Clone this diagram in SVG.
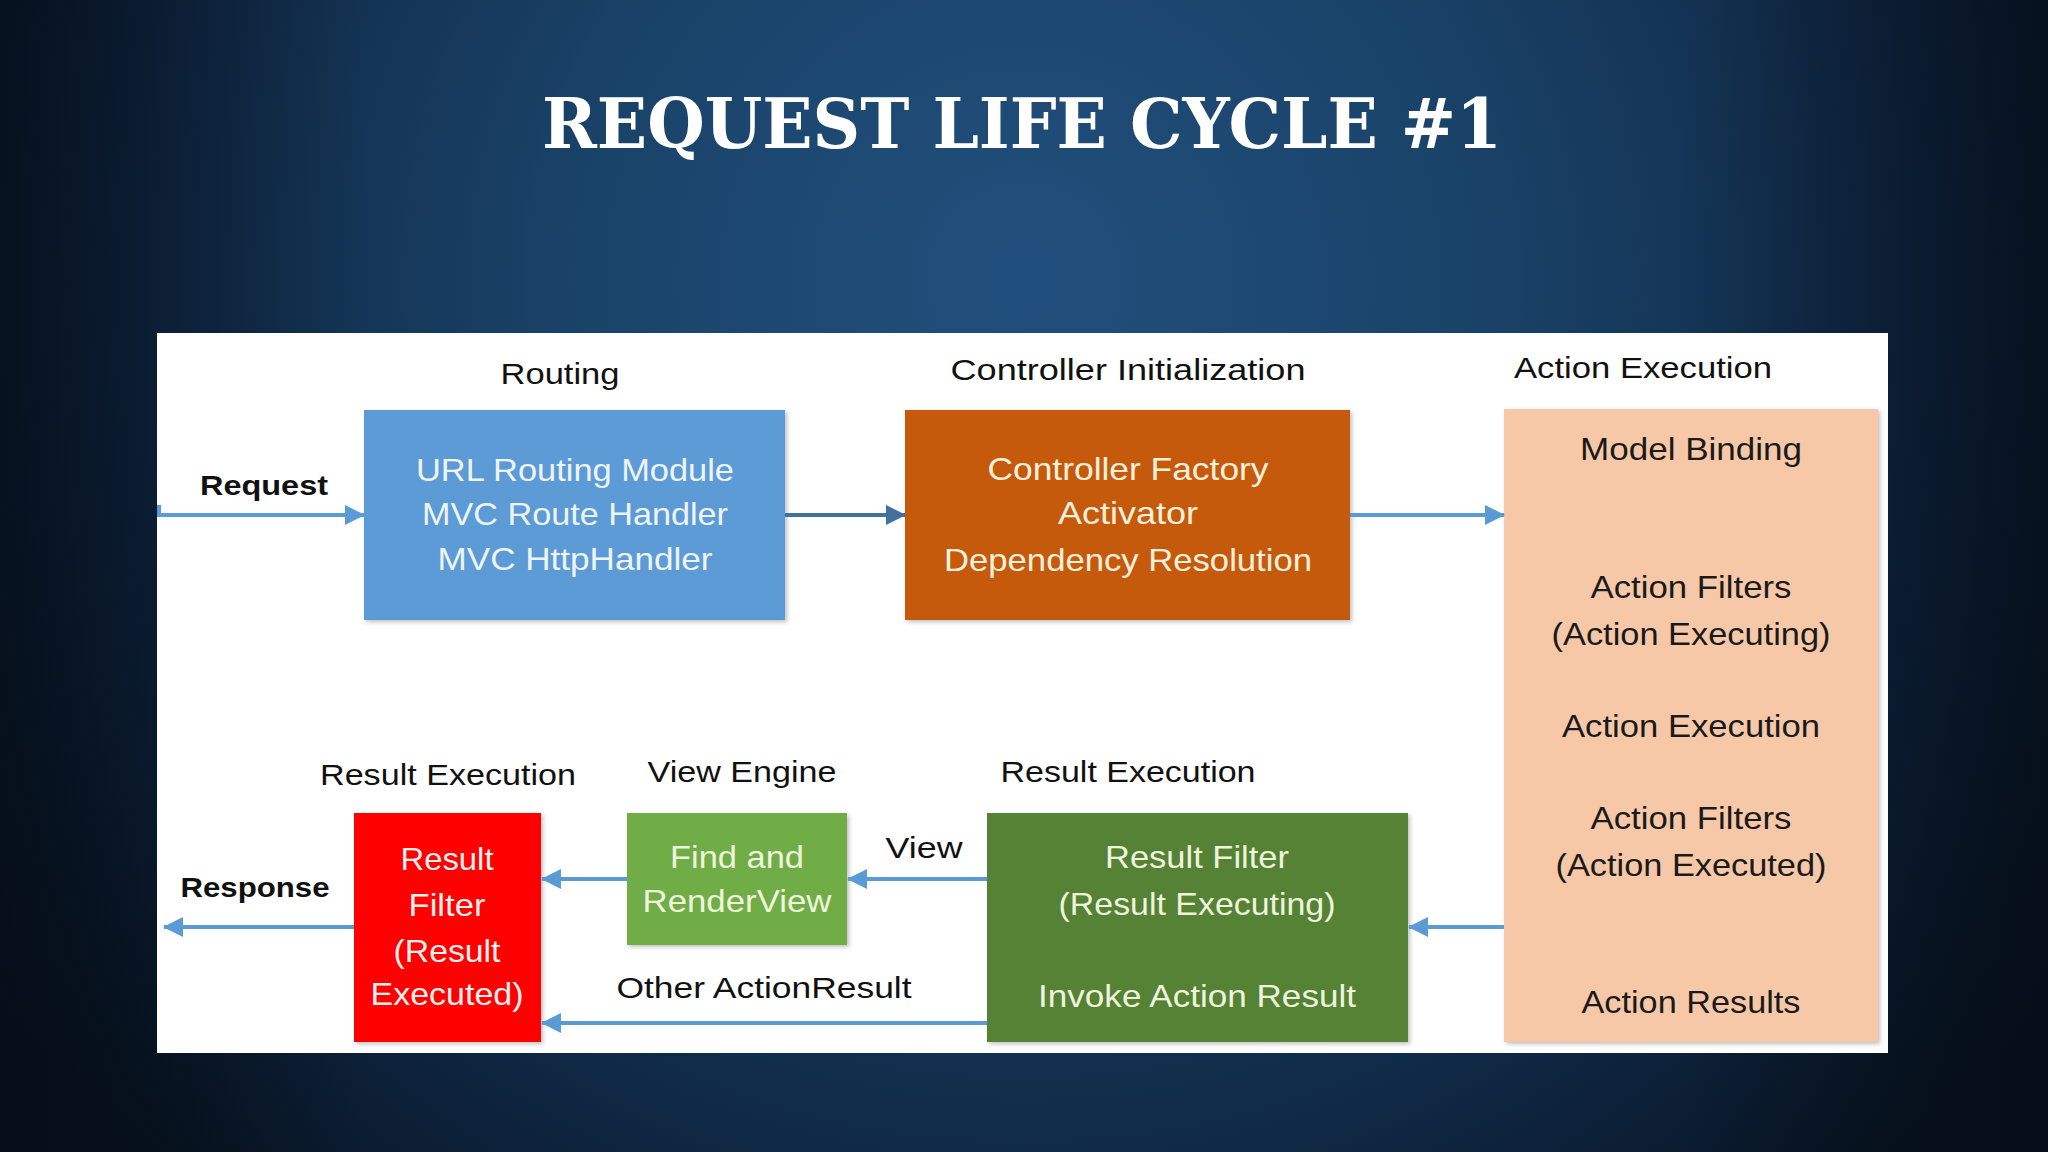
<svg xmlns="http://www.w3.org/2000/svg" width="2048" height="1152" viewBox="0 0 2048 1152">
<defs>
<radialGradient id="bg" cx="1024" cy="280" r="1250" gradientUnits="userSpaceOnUse">
<stop offset="0" stop-color="#214f7d"/>
<stop offset="0.35" stop-color="#1a4369"/>
<stop offset="0.7" stop-color="#102a48"/>
<stop offset="1" stop-color="#07121f"/>
</radialGradient>
<linearGradient id="vig" x1="0" y1="0" x2="1" y2="0">
<stop offset="0" stop-color="#050c16" stop-opacity="0.7"/>
<stop offset="0.18" stop-color="#050c16" stop-opacity="0"/>
<stop offset="0.82" stop-color="#050c16" stop-opacity="0"/>
<stop offset="1" stop-color="#050c16" stop-opacity="0.7"/>
</linearGradient>
<filter id="sh" x="-5%" y="-5%" width="115%" height="115%">
<feDropShadow dx="2" dy="2" stdDeviation="2" flood-color="#000" flood-opacity="0.25"/>
</filter>
<marker id="ah" markerUnits="userSpaceOnUse" markerWidth="20" markerHeight="20" refX="19" refY="10" orient="auto">
<path d="M0,0 L20,10 L0,20 z" fill="#5B9BD5"/>
</marker>
<marker id="ahd" markerUnits="userSpaceOnUse" markerWidth="20" markerHeight="20" refX="19" refY="10" orient="auto">
<path d="M0,0 L20,10 L0,20 z" fill="#41719C"/>
</marker>
</defs>
<style>
text{font-family:"Liberation Sans","Open Sans",Arial,sans-serif;text-anchor:middle}
.hd{font-size:30px;fill:#111}
.bd{font-size:28px;font-weight:bold;fill:#111}
.bx{font-size:32px}
.pc{font-size:32px;fill:#1a1a1a}
.wt{fill:#eef4fb}
.ot{fill:#fdf0dc}
.gt{fill:#eef5dc}
.rt{fill:#fff2ee}
.c{fill:none;stroke:#5B9BD5;stroke-width:4;marker-end:url(#ah)}
.cd{fill:none;stroke:#41719C;stroke-width:4;marker-end:url(#ahd)}
</style>
<rect width="2048" height="1152" fill="url(#bg)"/>
<rect width="2048" height="1152" fill="url(#vig)"/>
<text x="1022" y="148" font-family="'DejaVu Serif','Liberation Serif',serif" font-weight="bold" font-size="70" fill="#ffffff" textLength="960" lengthAdjust="spacingAndGlyphs" style="font-family:'DejaVu Serif','Liberation Serif',serif">REQUEST LIFE CYCLE #1</text>
<rect x="157" y="333" width="1731" height="720" fill="#ffffff"/>
<g id="labels">
<text class="hd" x="560" y="384" textLength="119" lengthAdjust="spacingAndGlyphs">Routing</text>
<text class="hd" x="1128" y="380" textLength="355" lengthAdjust="spacingAndGlyphs">Controller Initialization</text>
<text class="hd" x="1643" y="378" textLength="258" lengthAdjust="spacingAndGlyphs">Action Execution</text>
<text class="hd" x="448" y="785" textLength="256" lengthAdjust="spacingAndGlyphs">Result Execution</text>
<text class="hd" x="742" y="782" textLength="189" lengthAdjust="spacingAndGlyphs">View Engine</text>
<text class="hd" x="1128" y="782" textLength="255" lengthAdjust="spacingAndGlyphs">Result Execution</text>
<text class="hd" x="924" y="858" textLength="77" lengthAdjust="spacingAndGlyphs">View</text>
<text class="hd" x="764" y="998" textLength="295" lengthAdjust="spacingAndGlyphs">Other ActionResult</text>
<text class="bd" x="264" y="495" textLength="128" lengthAdjust="spacingAndGlyphs">Request</text>
<text class="bd" x="255" y="897" textLength="149" lengthAdjust="spacingAndGlyphs">Response</text>
</g>
<g id="routing">
<rect x="364" y="410" width="421" height="210" fill="#5B9BD5" filter="url(#sh)"/>
<text class="bx wt" x="575" y="481" textLength="318" lengthAdjust="spacingAndGlyphs">URL Routing Module</text>
<text class="bx wt" x="575" y="525" textLength="306" lengthAdjust="spacingAndGlyphs">MVC Route Handler</text>
<text class="bx wt" x="575" y="570" textLength="275" lengthAdjust="spacingAndGlyphs">MVC HttpHandler</text>
</g>
<g id="controller">
<rect x="905" y="410" width="445" height="210" fill="#C55A11" filter="url(#sh)"/>
<text class="bx ot" x="1128" y="480" textLength="281" lengthAdjust="spacingAndGlyphs">Controller Factory</text>
<text class="bx ot" x="1128" y="524" textLength="140" lengthAdjust="spacingAndGlyphs">Activator</text>
<text class="bx ot" x="1128" y="571" textLength="368" lengthAdjust="spacingAndGlyphs">Dependency Resolution</text>
</g>
<g id="action">
<rect x="1504" y="409" width="374" height="633" fill="#F6C8A8" filter="url(#sh)"/>
<text class="pc" x="1691" y="460" textLength="222" lengthAdjust="spacingAndGlyphs">Model Binding</text>
<text class="pc" x="1691" y="598" textLength="201" lengthAdjust="spacingAndGlyphs">Action Filters</text>
<text class="pc" x="1691" y="645" textLength="279" lengthAdjust="spacingAndGlyphs">(Action Executing)</text>
<text class="pc" x="1691" y="737" textLength="258" lengthAdjust="spacingAndGlyphs">Action Execution</text>
<text class="pc" x="1691" y="829" textLength="201" lengthAdjust="spacingAndGlyphs">Action Filters</text>
<text class="pc" x="1691" y="876" textLength="271" lengthAdjust="spacingAndGlyphs">(Action Executed)</text>
<text class="pc" x="1691" y="1013" textLength="219" lengthAdjust="spacingAndGlyphs">Action Results</text>
</g>
<g id="result-exec">
<rect x="987" y="813" width="421" height="229" fill="#548235" filter="url(#sh)"/>
<text class="bx gt" x="1197" y="868" textLength="184" lengthAdjust="spacingAndGlyphs">Result Filter</text>
<text class="bx gt" x="1197" y="915" textLength="277" lengthAdjust="spacingAndGlyphs">(Result Executing)</text>
<text class="bx gt" x="1197" y="1007" textLength="318" lengthAdjust="spacingAndGlyphs">Invoke Action Result</text>
</g>
<g id="view-engine">
<rect x="627" y="813" width="220" height="132" fill="#70AD47" filter="url(#sh)"/>
<text class="bx gt" x="737" y="868" textLength="134" lengthAdjust="spacingAndGlyphs">Find and</text>
<text class="bx gt" x="737" y="912" textLength="189" lengthAdjust="spacingAndGlyphs">RenderView</text>
</g>
<g id="result-filter">
<rect x="354" y="813" width="187" height="229" fill="#FF0000" filter="url(#sh)"/>
<text class="bx rt" x="447" y="870" textLength="93" lengthAdjust="spacingAndGlyphs">Result</text>
<text class="bx rt" x="447" y="916" textLength="77" lengthAdjust="spacingAndGlyphs">Filter</text>
<text class="bx rt" x="447" y="962" textLength="107" lengthAdjust="spacingAndGlyphs">(Result</text>
<text class="bx rt" x="447" y="1005" textLength="153" lengthAdjust="spacingAndGlyphs">Executed)</text>
</g>
<g id="connectors">
<path class="c" d="M159,505 V515 H364"/>
<path class="cd" d="M785,515 H905"/>
<path class="c" d="M1350,515 H1504"/>
<path class="c" d="M1504,927 H1409"/>
<path class="c" d="M987,879 H848"/>
<path class="c" d="M627,879 H542"/>
<path class="c" d="M987,1023 H542"/>
<path class="c" d="M354,927 H164"/>
</g>
</svg>
